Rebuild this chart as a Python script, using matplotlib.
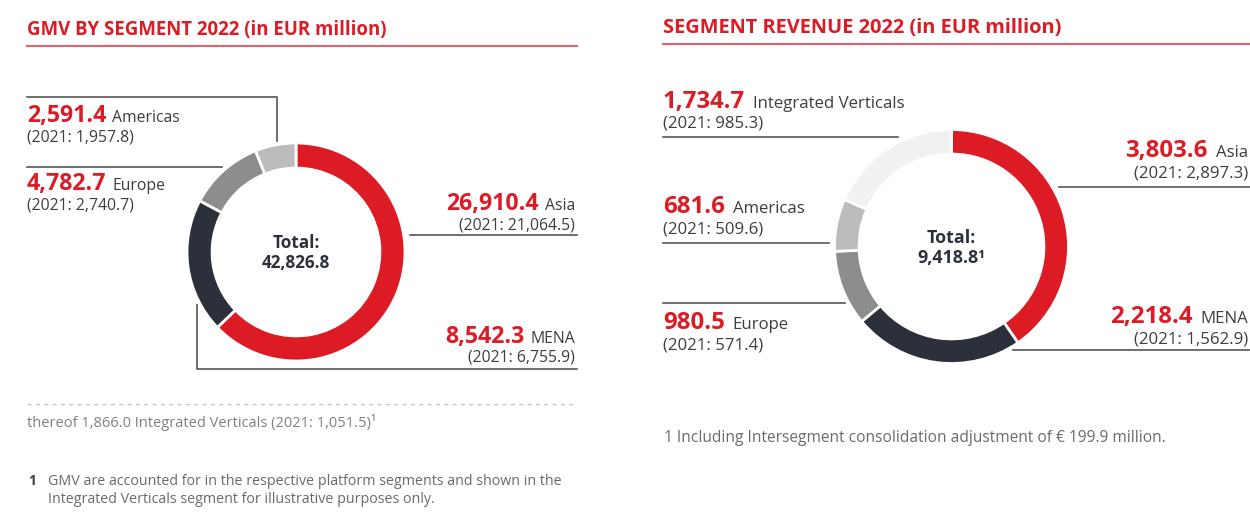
import matplotlib
matplotlib.use("Agg")
import matplotlib.pyplot as plt

plt.rcParams['font.family'] = ['Open Sans', 'DejaVu Sans']

# ---- data ----
gmv_segments = ["Asia", "MENA", "Europe", "Americas"]
gmv_values = [26910.4, 8542.3, 4782.7, 2591.4]
gmv_prev = ["21,064.5", "6,755.9", "2,740.7", "1,957.8"]
gmv_total = "42,826.8"

rev_segments = ["Asia", "MENA", "Europe", "Americas", "Integrated Verticals"]
rev_values = [3803.6, 2218.4, 980.5, 681.6, 1734.7]
rev_prev = ["2,897.3", "1,562.9", "571.4", "509.6", "985.3"]
rev_total = "9,418.8\u00b9"

RED = "#dd1b25"
DARK = "#2b303b"
MID = "#8d8d90"
LIGHT = "#bcbcbe"
FAINT = "#f1f1f1"
TXT = "#3d3d3d"
LINE = "#555555"

W, H = 1250, 516
fig = plt.figure(figsize=(12.5, 5.16), dpi=100)
ax = fig.add_axes([0, 0, 1, 1])
ax.set_xlim(0, W)
ax.set_ylim(H, 0)
ax.axis("off")


def pie_axes(cx, cy, r):
    return fig.add_axes([(cx - r) / W, (H - cy - r) / H, 2 * r / W, 2 * r / H])


# donuts
axl = pie_axes(296, 252, 109)
axl.pie(gmv_values, colors=[RED, DARK, MID, LIGHT], startangle=90, counterclock=False,
        wedgeprops=dict(width=0.23, edgecolor="white", linewidth=2))
axl.set_xlim(-1, 1); axl.set_ylim(-1, 1)

axr = pie_axes(951.5, 246.5, 117)
axr.pie(rev_values, colors=[RED, DARK, MID, LIGHT, FAINT], startangle=90, counterclock=False,
        wedgeprops=dict(width=0.21, edgecolor="white", linewidth=2))
axr.set_xlim(-1, 1); axr.set_ylim(-1, 1)

renderer = fig.canvas.get_renderer()
inv = ax.transData.inverted()


def label(x, y, value, name, prev, ha, vs, ns, gap, dy):
    if ha == "left":
        t = ax.text(x, y, value, color=RED, fontsize=vs, fontweight="bold", ha="left", va="baseline")
        bb = t.get_window_extent(renderer).transformed(inv)
        ax.text(bb.x1 + gap, y, name, color=TXT, fontsize=ns, ha="left", va="baseline")
    else:
        t = ax.text(x, y, name, color=TXT, fontsize=ns, ha="right", va="baseline")
        bb = t.get_window_extent(renderer).transformed(inv)
        ax.text(bb.x0 - gap, y, value, color=RED, fontsize=vs, fontweight="bold", ha="right", va="baseline")
    ax.text(x, y + dy, "(2021: %s)" % prev, color=TXT, fontsize=ns, ha=ha, va="baseline")


def fmt(v):
    return "{:,.1f}".format(v)


# ---- left panel ----
ax.text(27, 35, "GMV BY SEGMENT 2022 (in EUR million)", color=RED, fontsize=13.4,
        fontweight="bold", va="baseline")
ax.plot([27, 577], [46, 46], color="#e4626a", lw=1.5)

lk = dict(vs=16.7, ns=11.3, gap=6, dy=19)
label(575, 210, fmt(gmv_values[0]), gmv_segments[0], gmv_prev[0], "right", **lk)
label(575, 343, fmt(gmv_values[1]), gmv_segments[1], gmv_prev[1], "right", **lk)
label(27, 190, fmt(gmv_values[2]), gmv_segments[2], gmv_prev[2], "left", **lk)
label(27, 122, fmt(gmv_values[3]), gmv_segments[3], gmv_prev[3], "left", **lk)

ax.plot([410, 577], [235, 235], color=LINE, lw=1.2)
ax.plot([197, 197, 577], [305, 369, 369], color=LINE, lw=1.2)
ax.plot([27, 222], [167, 167], color=LINE, lw=1.2)
ax.plot([27, 277, 277], [97, 97, 141], color=LINE, lw=1.2)

ax.text(296, 248, "Total:", color=DARK, fontsize=12.3, fontweight="bold", ha="center", va="baseline")
ax.text(296, 268, gmv_total, color=DARK, fontsize=12.3, fontweight="bold", ha="center", va="baseline")

ax.plot([27, 577], [404, 404], color="#c4c4c4", lw=1, ls=(0, (3, 3)))
ax.text(27, 427, "thereof 1,866.0 Integrated Verticals (2021: 1,051.5)\u00b9", color="#808080",
        fontsize=10.5, va="baseline")
ax.text(28, 485, "1", color=TXT, fontsize=10, fontweight="bold", va="baseline")
ax.text(48, 485, "GMV are accounted for in the respective platform segments and shown in the",
        color="#6a6a6a", fontsize=10.3, va="baseline")
ax.text(48, 503, "Integrated Verticals segment for illustrative purposes only.",
        color="#6a6a6a", fontsize=10.3, va="baseline")

# ---- right panel ----
ax.text(663, 33, "SEGMENT REVENUE 2022 (in EUR million)", color=RED, fontsize=14.4,
        fontweight="bold", va="baseline")
ax.plot([663, 1250], [44, 44], color="#e4626a", lw=1.5)

rk = dict(vs=17.3, ns=12.1, gap=8, dy=20)
label(1248, 157, fmt(rev_values[0]), rev_segments[0], rev_prev[0], "right", **rk)
label(1248, 323, fmt(rev_values[1]), rev_segments[1], rev_prev[1], "right", **rk)
label(663, 329, fmt(rev_values[2]), rev_segments[2], rev_prev[2], "left", **rk)
label(663, 213, fmt(rev_values[3]), rev_segments[3], rev_prev[3], "left", **rk)
label(663, 108, fmt(rev_values[4]), rev_segments[4], rev_prev[4], "left", **rk)

ax.plot([663, 898], [137, 137], color=LINE, lw=1.2)
ax.plot([1059, 1250], [187, 187], color=LINE, lw=1.2)
ax.plot([663, 829], [243, 243], color=LINE, lw=1.2)
ax.plot([663, 845], [303, 303], color=LINE, lw=1.2)
ax.plot([1013, 1250], [350, 350], color=LINE, lw=1.2)

ax.text(951.5, 243, "Total:", color=DARK, fontsize=12.9, fontweight="bold", ha="center", va="baseline")
ax.text(951.5, 263, rev_total, color=DARK, fontsize=12.9, fontweight="bold", ha="center", va="baseline")

ax.text(664, 442, "1 Including Intersegment consolidation adjustment of \u20ac 199.9 million.",
        color="#6a6a6a", fontsize=11.2, va="baseline")

fig.savefig("out.png", dpi=100, facecolor="white")
